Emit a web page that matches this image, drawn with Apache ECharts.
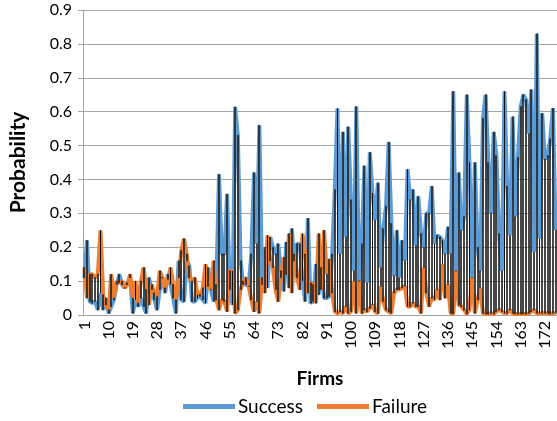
<!DOCTYPE html>
<html>
<head>
<meta charset="utf-8">
<script src="https://cdn.jsdelivr.net/npm/echarts@6/dist/echarts.min.js"></script>
<style>
  html, body { margin: 0; padding: 0; background: #fff; }
  #chart { width: 557px; height: 421px; }
</style>
</head>
<body>
<div id="chart"></div>
<script>
// Estimated probability of success per firm
const success = [
  0.11, 0.22, 0.04, 0.035, 0.04, 0.015, 0.065, 0.015, 0.05, 0.005,
  0.025, 0.045, 0.09, 0.12, 0.09, 0.08, 0.095, 0.11, 0.005, 0.045,
  0.025, 0.05, 0.025, 0.005, 0.11, 0.075, 0.045, 0.015, 0.075, 0.11,
  0.065, 0.12, 0.09, 0.05, 0.005, 0.16, 0.045, 0.04, 0.16, 0.145,
  0.04, 0.04, 0.05, 0.055, 0.045, 0.035, 0.14, 0.075, 0.04, 0.09,
  0.415, 0.18, 0.18, 0.357, 0.075, 0.03, 0.614, 0.53, 0.16, 0.09,
  0.09, 0.085, 0.18, 0.42, 0.21, 0.56, 0.09, 0.2, 0.08, 0.23,
  0.2, 0.18, 0.21, 0.13, 0.07, 0.215, 0.08, 0.255, 0.16, 0.21,
  0.21, 0.1, 0.04, 0.285, 0.035, 0.04, 0.15, 0.06, 0.14, 0.05,
  0.05, 0.055, 0.18, 0.37, 0.61, 0.18, 0.54, 0.23, 0.555, 0.34,
  0.13, 0.615, 0.1, 0.21, 0.44, 0.095, 0.48, 0.36, 0.28, 0.39,
  0.14, 0.255, 0.32, 0.51, 0.27, 0.115, 0.25, 0.11, 0.22, 0.16,
  0.43, 0.34, 0.37, 0.205, 0.35, 0.24, 0.2, 0.3, 0.3, 0.38,
  0.21, 0.235, 0.23, 0.22, 0.18, 0.26, 0.18, 0.66, 0.13, 0.42,
  0.25, 0.29, 0.65, 0.45, 0.11, 0.45, 0.2, 0.13, 0.58, 0.65,
  0.45, 0.3, 0.54, 0.47, 0.24, 0.13, 0.66, 0.38, 0.235, 0.585,
  0.29, 0.465, 0.615, 0.65, 0.635, 0.535, 0.665, 0.185, 0.83, 0.225,
  0.595, 0.46, 0.47, 0.52, 0.61, 0.25
];

// Estimated probability of failure per firm
const failure = [
  0.14, 0.05, 0.12, 0.12, 0.11, 0.12, 0.25, 0.06, 0.03, 0.015,
  0.12, 0.05, 0.1, 0.095, 0.1, 0.08, 0.09, 0.12, 0.05, 0.1,
  0.035, 0.1, 0.14, 0.075, 0.03, 0.09, 0.065, 0.055, 0.13, 0.11,
  0.08, 0.105, 0.14, 0.09, 0.045, 0.11, 0.19, 0.225, 0.18, 0.11,
  0.1, 0.11, 0.06, 0.06, 0.08, 0.15, 0.085, 0.075, 0.16, 0.045,
  0.015, 0.045, 0.04, 0.01, 0.13, 0.13, 0.005, 0.015, 0.075, 0.1,
  0.11, 0.085, 0.045, 0.01, 0.04, 0.005, 0.11, 0.065, 0.235, 0.16,
  0.14, 0.075, 0.04, 0.11, 0.17, 0.12, 0.24, 0.065, 0.18, 0.11,
  0.075, 0.24, 0.18, 0.065, 0.095, 0.09, 0.035, 0.24, 0.075, 0.25,
  0.12, 0.165, 0.065, 0.01, 0.005, 0.01, 0.005, 0.025, 0.005, 0.01,
  0.1, 0.005, 0.1, 0.005, 0.015, 0.01, 0.02, 0.03, 0.01, 0.005,
  0.085, 0.04, 0.015, 0.01, 0.005, 0.065, 0.075, 0.075, 0.08, 0.085,
  0.025, 0.025, 0.035, 0.025, 0.025, 0.005, 0.14, 0.065, 0.025, 0.05,
  0.045, 0.075, 0.045, 0.15, 0.05, 0.09, 0.005, 0.003, 0.13, 0.03,
  0.025, 0.015, 0.003, 0.015, 0.11, 0.005, 0.045, 0.08, 0.005, 0.003,
  0.003, 0.005, 0.003, 0.01, 0.015, 0.01, 0.005, 0.005, 0.015, 0.005,
  0.003, 0.003, 0.003, 0.003, 0.003, 0.005, 0.01, 0.015, 0.005, 0.005,
  0.005, 0.005, 0.005, 0.003, 0.005, 0.005
];

// Firm numbers on the category axis
const firms = success.map((_, i) => String(i + 1));

// Up/down bars spanning the gap between the two lines for each firm
const spans = success.map((s, i) => {
  const f = failure[i];
  return [f, s, Math.min(f, s), Math.max(f, s)];
});

const FONT = 'Lato, "Open Sans", sans-serif';
const GRID_GREY = '#a6a6a6';

const chart = echarts.init(document.getElementById('chart'), null, { renderer: 'canvas' });

chart.setOption({
  animation: false,
  backgroundColor: '#ffffff',
  textStyle: { fontFamily: FONT, color: '#000' },
  grid: { left: 72, right: 0, top: 10, bottom: 106, containLabel: false },
  legend: {
    data: ['Success', 'Failure'],
    left: 178,
    bottom: 0,
    icon: 'rect',
    itemWidth: 52,
    itemHeight: 5,
    itemGap: 14,
    textStyle: { fontFamily: FONT, fontSize: 19, color: '#000', padding: [0, 0, 0, -2] }
  },
  xAxis: {
    type: 'category',
    data: firms,
    boundaryGap: true,
    name: 'Firms',
    nameLocation: 'middle',
    nameGap: 54,
    nameTextStyle: { fontFamily: FONT, fontSize: 19, fontWeight: 'bold', color: '#000' },
    axisLine: { show: true, lineStyle: { color: GRID_GREY, width: 1 } },
    axisTick: { show: false },
    axisLabel: {
      interval: 8,
      rotate: 90,
      margin: 6,
      fontSize: 16,
      color: '#000',
      fontFamily: FONT
    },
    splitLine: { show: false }
  },
  yAxis: {
    type: 'value',
    min: 0,
    max: 0.9,
    interval: 0.1,
    name: 'Probability',
    nameLocation: 'middle',
    nameGap: 54,
    nameRotate: 90,
    nameTextStyle: { fontFamily: FONT, fontSize: 21, fontWeight: 'bold', color: '#000' },
    axisLine: { show: true, lineStyle: { color: GRID_GREY, width: 1 } },
    axisTick: { show: true, length: 5, lineStyle: { color: GRID_GREY } },
    axisLabel: {
      margin: 11,
      fontSize: 16,
      color: '#000',
      fontFamily: FONT,
      formatter: v => (v === 0 ? '0' : String(Math.round(v * 10) / 10))
    },
    splitLine: { show: true, lineStyle: { color: GRID_GREY, width: 1 } }
  },
  series: [
    {
      name: 'Success',
      type: 'line',
      data: success,
      showSymbol: false,
      symbol: 'none',
      lineStyle: { color: '#5b9bd5', width: 4 },
      itemStyle: { color: '#5b9bd5' },
      z: 2
    },
    {
      name: 'Failure',
      type: 'line',
      data: failure,
      showSymbol: false,
      symbol: 'none',
      lineStyle: { color: '#ed7d31', width: 4 },
      itemStyle: { color: '#ed7d31' },
      z: 3
    },
    {
      name: 'Spread',
      type: 'candlestick',
      data: spans,
      barWidth: 1.4,
      itemStyle: {
        color: '#d9d9d9',
        color0: '#d9d9d9',
        borderColor: '#000000',
        borderColor0: '#000000',
        borderWidth: 0.7
      },
      z: 4
    }
  ]
});
</script>
</body>
</html>
